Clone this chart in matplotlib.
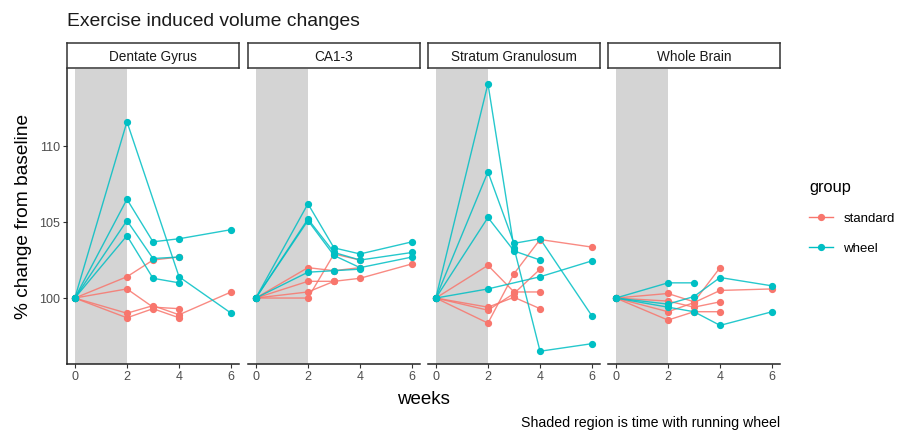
import numpy as np
import matplotlib

matplotlib.use("Agg")
import matplotlib.pyplot as plt
from matplotlib.lines import Line2D

# weeks at which volumes were measured; nan = not measured
WEEKS = [0, 2, 3, 4, 6]
nan = np.nan

PANELS = ["Dentate Gyrus", "CA1-3", "Stratum Granulosum", "Whole Brain"]

DG_STANDARD = [
    [100, 101.4, 102.5, 102.7, nan],
    [100, 100.6, 99.4, 99.3, nan],
    [100, 99.0, 99.5, 98.9, 100.4],
    [100, 98.7, 99.3, 98.7, nan],
]
DG_WHEEL = [
    [100, 111.6, nan, 101.4, 99.0],
    [100, 106.5, 103.7, 103.9, 104.5],
    [100, 105.1, 102.6, 102.7, nan],
    [100, 104.1, 101.3, 101.0, nan],
]

CA_STANDARD = [
    [100, 100.0, 102.9, 102.5, nan],
    [100, 102.0, 101.8, 102.0, nan],
    [100, 101.1, 101.1, 101.3, 102.25],
    [100, 100.4, 101.1, nan, nan],
]
CA_WHEEL = [
    [100, 106.2, 103.3, 102.9, 103.7],
    [100, 105.2, 103.0, 102.5, 103.0],
    [100, 105.1, 102.8, 102.0, 102.7],
    [100, 101.7, 101.8, 101.9, nan],
]

SG_STANDARD = [
    [100, 98.35, 101.6, 103.85, 103.35],
    [100, 102.15, 100.4, 100.4, nan],
    [100, 99.4, 100.05, 99.3, nan],
    [100, 99.2, 100.3, 101.9, nan],
]
SG_WHEEL = [
    [100, 114.1, 103.3, 96.5, 97.0],
    [100, 108.3, 103.6, 103.9, 98.8],
    [100, 105.3, 103.1, 102.5, nan],
    [100, 100.6, nan, 101.4, 102.45],
]

WB_STANDARD = [
    [100, 100.3, 99.75, 102.0, nan],
    [100, 99.1, 99.7, 100.5, 100.6],
    [100, 98.55, 99.1, 99.1, nan],
    [100, 99.8, 99.4, 99.75, nan],
]
WB_WHEEL = [
    [100, 101.0, 101.0, nan, nan],
    [100, 99.6, 100.1, 101.35, 100.8],
    [100, 99.4, 99.1, 98.2, 99.1],
]

STANDARD = [DG_STANDARD, CA_STANDARD, SG_STANDARD, WB_STANDARD]
WHEEL = [DG_WHEEL, CA_WHEEL, SG_WHEEL, WB_WHEEL]

SHADE = (0, 2)
RED = "#F8766D"
TEAL = "#00BFC4"
W, H = 898, 430


def fx(px):
    return px / W


def fy(py):
    return 1 - py / H


def draw_subject(ax, vals, color):
    x = np.array(WEEKS, float)
    y = np.array(vals, float)
    ok = ~np.isnan(y)
    ax.plot(x[ok], y[ok], "-", color=color, lw=1.0, alpha=0.85, zorder=3)
    ax.plot(x[ok], y[ok], "o", color=color, ms=4.2, mec=color, zorder=4)


plt.rcParams["font.family"] = ["Liberation Sans", "DejaVu Sans"]
fig = plt.figure(figsize=(W / 100, H / 100), dpi=100)

lefts = [67, 248, 428, 608]
pw = 172
top, bot = 69, 364

for i, name in enumerate(PANELS):
    ax = fig.add_axes([fx(lefts[i]), fy(bot), fx(pw), (bot - top) / H])
    ax.axvspan(*SHADE, color="#d4d4d4", lw=0, zorder=1)
    for s in STANDARD[i]:
        draw_subject(ax, s, RED)
    for s in WHEEL[i]:
        draw_subject(ax, s, TEAL)
    ax.set_xlim(-0.3, 6.3)
    ax.set_ylim(95.66, 115.07)
    ax.set_xticks([0, 2, 4, 6])
    ax.set_yticks([100, 105, 110])
    for sp in ("top", "right"):
        ax.spines[sp].set_visible(False)
    ax.spines["bottom"].set_linewidth(1.1)
    ax.spines["bottom"].set_color("#222222")
    ax.tick_params(axis="both", length=3, width=0.8, color="#333333",
                   labelsize=9, labelcolor="#4d4d4d", pad=2)
    if i == 0:
        ax.spines["left"].set_linewidth(1.1)
        ax.spines["left"].set_color("#222222")
        ax.set_ylabel("% change from baseline", fontsize=13.8, labelpad=5)
    else:
        ax.spines["left"].set_visible(False)
        ax.tick_params(axis="y", left=False, labelleft=False)

    # facet strip
    sax = fig.add_axes([fx(lefts[i]), fy(68), fx(pw), 25 / H])
    sax.set_xticks([])
    sax.set_yticks([])
    for sp in sax.spines.values():
        sp.set_linewidth(1.1)
        sp.set_color("#333333")
    sax.text(0.5, 0.5, name, ha="center", va="center_baseline", fontsize=9.8,
             color="#1a1a1a", transform=sax.transAxes)

fig.text(fx(67), fy(20), "Exercise induced volume changes", fontsize=13.9,
         ha="left", va="center_baseline", color="#1a1a1a")
fig.text(fx(423), fy(398), "weeks", fontsize=13.5, ha="center",
         va="center_baseline")
fig.text(fx(780), fy(421), "Shaded region is time with running wheel",
         fontsize=10.2, ha="right", va="center_baseline")

handles = [
    Line2D([], [], color=RED, marker="o", ms=4.2, lw=1.0, label="standard"),
    Line2D([], [], color=TEAL, marker="o", ms=4.2, lw=1.0, label="wheel"),
]
leg = fig.legend(handles=handles, title="group", loc="upper left",
                 bbox_to_anchor=(fx(797), fy(168)), frameon=False,
                 fontsize=9.5, title_fontsize=11.8, handlelength=1.8,
                 labelspacing=1.35)
leg._legend_box.align = "left"

fig.savefig("out.png", dpi=100)
